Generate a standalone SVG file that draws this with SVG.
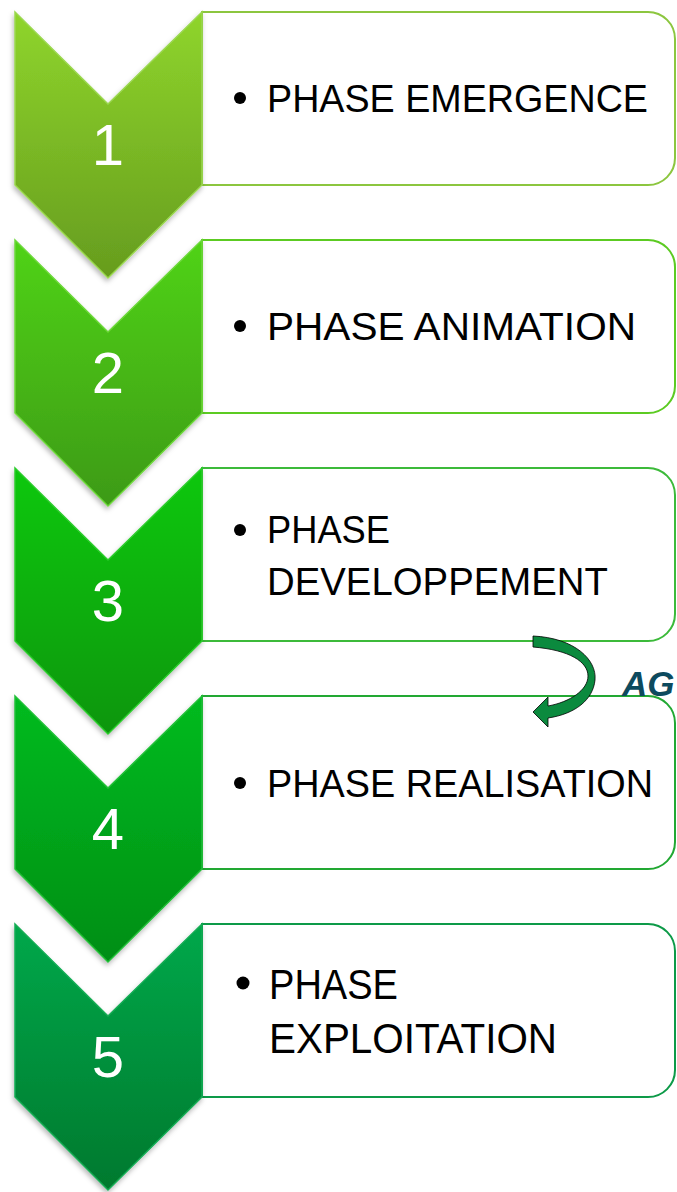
<svg xmlns="http://www.w3.org/2000/svg" width="677" height="1192" viewBox="0 0 677 1192">
<defs>
<linearGradient id="g1" x1="0" y1="0" x2="0" y2="1"><stop offset="0" stop-color="#8fd52c"/><stop offset="1" stop-color="#669c1e"/></linearGradient>
<linearGradient id="g2" x1="0" y1="0" x2="0" y2="1"><stop offset="0" stop-color="#50d314"/><stop offset="1" stop-color="#3d9a12"/></linearGradient>
<linearGradient id="g3" x1="0" y1="0" x2="0" y2="1"><stop offset="0" stop-color="#0fc80f"/><stop offset="1" stop-color="#089608"/></linearGradient>
<linearGradient id="g4" x1="0" y1="0" x2="0" y2="1"><stop offset="0" stop-color="#06bb20"/><stop offset="1" stop-color="#048e14"/></linearGradient>
<linearGradient id="g5" x1="0" y1="0" x2="0" y2="1"><stop offset="0" stop-color="#00a84a"/><stop offset="1" stop-color="#00792e"/></linearGradient>
<filter id="sh" x="-20%" y="-10%" width="140%" height="130%"><feDropShadow dx="-1" dy="3" stdDeviation="2.5" flood-color="#000" flood-opacity="0.28"/></filter>
<path id="chev" d="M15,12 L108,104 L202,12 L202,185 L108,278 L15,185 Z"/>
<path id="box" d="M202,12 H648 A27,27 0 0 1 675,39 V158 A27,27 0 0 1 648,185 H202 Z"/>
</defs>
<style>
.box{fill:#fff;stroke-width:2}
.num{font-family:"Liberation Sans",Arial,sans-serif;font-size:58px;fill:#fff;text-anchor:middle}
.lbl{font-family:"Liberation Sans",Arial,sans-serif;font-size:38px;fill:#000}
.lbl5{font-family:"Liberation Sans",Arial,sans-serif;font-size:42px;fill:#000}
.chev{filter:url(#sh);stroke-width:1.5}
</style>

<g id="node1">
<use href="#box" class="box" stroke="#8cc63f"/>
<use href="#chev" class="chev" fill="url(#g1)" stroke="#9bd850"/>
<text class="num" x="108" y="165">1</text>
<circle cx="240" cy="98" r="6"/>
<text class="lbl" x="267" y="112" textLength="381" lengthAdjust="spacingAndGlyphs">PHASE EMERGENCE</text>
</g>

<g id="node2" transform="translate(0,228)">
<use href="#box" class="box" stroke="#5ccb22"/>
<use href="#chev" class="chev" fill="url(#g2)" stroke="#6cd83a"/>
<text class="num" x="108" y="165">2</text>
<circle cx="240" cy="98" r="6"/>
<text class="lbl" x="267" y="112" textLength="369" lengthAdjust="spacingAndGlyphs">PHASE ANIMATION</text>
</g>

<g id="node3" transform="translate(0,456)">
<use href="#box" class="box" stroke="#3cba3a"/>
<use href="#chev" class="chev" fill="url(#g3)" stroke="#2ccc2c"/>
<text class="num" x="108" y="165">3</text>
<circle cx="240" cy="74" r="6"/>
<text class="lbl" x="267" y="87" textLength="123" lengthAdjust="spacingAndGlyphs">PHASE</text>
<text class="lbl" x="267" y="139" textLength="341" lengthAdjust="spacingAndGlyphs">DEVELOPPEMENT</text>
</g>

<g id="node4" transform="translate(0,684)">
<use href="#box" class="box" stroke="#22a833"/>
<use href="#chev" class="chev" fill="url(#g4)" stroke="#20c038"/>
<text class="num" x="108" y="165">4</text>
<circle cx="240" cy="99" r="6"/>
<text class="lbl" x="267" y="113" textLength="386" lengthAdjust="spacingAndGlyphs">PHASE REALISATION</text>
</g>

<g id="node5" transform="translate(0,912)">
<use href="#box" class="box" stroke="#0d9a48"/>
<use href="#chev" class="chev" fill="url(#g5)" stroke="#14ac54"/>
<text class="num" x="108" y="165">5</text>
<circle cx="243" cy="71" r="6.5"/>
<text class="lbl5" x="269" y="87" textLength="129" lengthAdjust="spacingAndGlyphs">PHASE</text>
<text class="lbl5" x="269" y="141" textLength="288" lengthAdjust="spacingAndGlyphs">EXPLOITATION</text>
</g>

<g id="connectors">
<path d="M533,636 C575,638 597,660 595,680 C593,700 575,714 548,718 L548,727 L533,712 L548,697 L548,706 C570,702 588,690 588,676 C588,662 570,650 533,647 Z" fill="#0b8a3e" stroke="#000" stroke-width="0.8"/>
<text x="622" y="696" font-family="Liberation Sans,Arial,sans-serif" font-size="35" font-weight="bold" font-style="italic" fill="#0d4a5e">AG</text>
</g>
</svg>
